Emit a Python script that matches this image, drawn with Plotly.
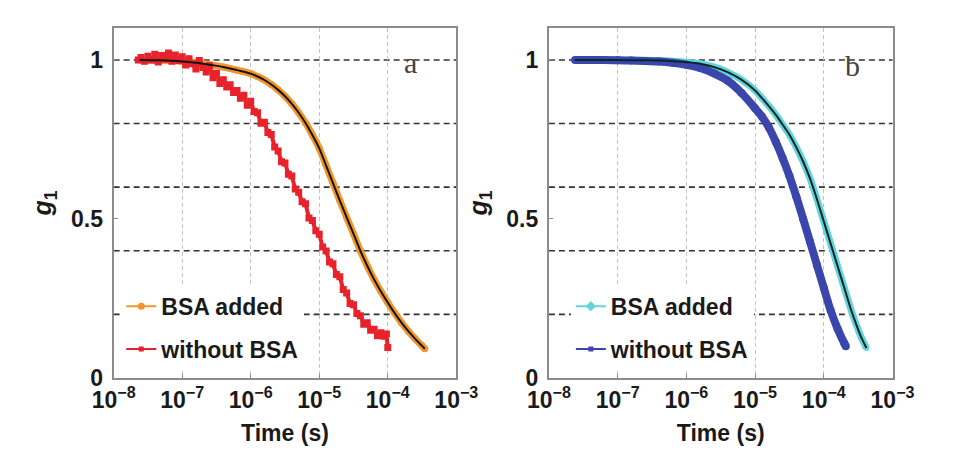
import plotly.graph_objects as go

# ---------------- data ----------------
# time values are stored as log10(t / s)
A_ADDED_LOGT = [-7.62, -7.4, -7.2, -7.0, -6.8, -6.6, -6.4, -6.2, -6.0, -5.9, -5.8, -5.7, -5.6, -5.5,
                -5.4, -5.3, -5.2, -5.1, -5.0, -4.9, -4.8, -4.7, -4.6, -4.5, -4.4, -4.3, -4.2, -4.1,
                -4.0, -3.9, -3.8, -3.7, -3.6, -3.5, -3.46]
A_ADDED_G = [1.000, 0.999, 0.998, 0.995, 0.991, 0.985, 0.978, 0.968, 0.957, 0.948, 0.937, 0.923, 0.906, 0.886,
             0.862, 0.834, 0.802, 0.764, 0.722, 0.668, 0.613, 0.558, 0.505, 0.453, 0.400, 0.353, 0.310, 0.272,
             0.237, 0.204, 0.174, 0.147, 0.123, 0.101, 0.092]

A_NOBSA_LOGT = [-7.64, -7.60, -7.55, -7.50, -7.45, -7.40, -7.35, -7.30, -7.25, -7.20, -7.15, -7.10, -7.05,
                -7.00, -6.95, -6.90, -6.85, -6.80, -6.75, -6.70, -6.65, -6.60, -6.55, -6.50, -6.45, -6.40,
                -6.35, -6.30, -6.25, -6.20, -6.15, -6.10, -6.05, -6.00, -5.95, -5.90, -5.85, -5.80, -5.75,
                -5.70, -5.65, -5.60, -5.55, -5.50, -5.45, -5.40, -5.35, -5.30, -5.25, -5.20, -5.15, -5.10,
                -5.05, -5.00, -4.95, -4.90, -4.85, -4.80, -4.75, -4.70, -4.65, -4.60, -4.55, -4.50, -4.45,
                -4.40, -4.35, -4.30, -4.25, -4.20, -4.15, -4.10, -4.05, -4.02, -4.00]
A_NOBSA_G = [1.000, 1.008, 0.996, 1.012, 1.000, 1.018, 0.994, 1.014, 1.002, 1.022, 0.996, 1.016, 0.998,
             1.010, 0.984, 1.004, 0.988, 0.972, 0.998, 0.976, 0.962, 0.982, 0.944, 0.958, 0.926, 0.938,
             0.915, 0.922, 0.898, 0.904, 0.880, 0.889, 0.858, 0.870, 0.838, 0.834, 0.801, 0.804, 0.772,
             0.766, 0.726, 0.714, 0.680, 0.676, 0.641, 0.635, 0.594, 0.584, 0.554, 0.548, 0.503, 0.495,
             0.463, 0.452, 0.412, 0.399, 0.365, 0.359, 0.325, 0.318, 0.278, 0.267, 0.234, 0.230, 0.203,
             0.196, 0.169, 0.174, 0.150, 0.153, 0.133, 0.142, 0.131, 0.138, 0.096]

B_ADDED_LOGT = [-7.62, -7.4, -7.2, -7.0, -6.8, -6.6, -6.4, -6.2, -6.0, -5.8, -5.6, -5.4, -5.2, -5.0,
                -4.9, -4.8, -4.7, -4.6, -4.5, -4.4, -4.3, -4.2, -4.1, -4.0, -3.9, -3.8,
                -3.7, -3.6, -3.5, -3.45, -3.38]
B_ADDED_G = [1.000, 1.000, 1.000, 1.000, 0.999, 0.999, 0.998, 0.996, 0.993, 0.988, 0.978, 0.962, 0.938, 0.904,
             0.880, 0.855, 0.828, 0.797, 0.765, 0.725, 0.680, 0.627, 0.562, 0.492, 0.422, 0.352,
             0.282, 0.212, 0.152, 0.125, 0.094]

B_NOBSA_LOGT = [-7.62, -7.4, -7.2, -7.0, -6.8, -6.6, -6.4, -6.2, -6.0, -5.8, -5.6, -5.4, -5.2,
                -5.0, -4.9, -4.8, -4.7, -4.6, -4.5, -4.4, -4.3, -4.2, -4.1, -4.0, -3.9,
                -3.8, -3.7, -3.68]
B_NOBSA_G = [1.000, 1.000, 1.000, 0.999, 0.998, 0.997, 0.995, 0.991, 0.985, 0.975, 0.958, 0.935, 0.897,
             0.848, 0.822, 0.788, 0.743, 0.692, 0.635, 0.570, 0.500, 0.428, 0.355, 0.283, 0.212,
             0.155, 0.108, 0.100]

SERIES_NAMES = ["BSA added", "without BSA"]
PANEL_LABELS = ["a", "b"]
X_TICKS = [1e-8, 1e-7, 1e-6, 1e-5, 1e-4, 1e-3]
X_TICKTEXT = ["10<sup>\u22128</sup>", "10<sup>\u22127</sup>", "10<sup>\u22126</sup>",
              "10<sup>\u22125</sup>", "10<sup>\u22124</sup>", "10<sup>\u22123</sup>"]
Y_TICKS = [0, 0.5, 1]
Y_TICKTEXT = ["0", "0.5", "1"]
Y_GRID = [0.2, 0.4, 0.6, 0.8, 1.0]

# ---------------- style ----------------
W, H = 968, 458
FONT = "Liberation Sans"
ORANGE = "#f2962c"
RED = "#e8222b"
CYAN = "#63d3dc"
NAVY = "#3a46ab"
FIT = "#151515"
FRAME = "#8c8c8c"
TXT = "#1a1a1a"

def tlist(logs):
    return [10 ** v for v in logs]

fig = go.Figure()

# ---- panel a ----
fig.add_trace(go.Scatter(x=tlist(A_ADDED_LOGT), y=A_ADDED_G, mode="lines+markers", line=dict(color=ORANGE, width=7, shape="spline"),
                         marker=dict(symbol="circle", size=7, color=ORANGE), showlegend=False, xaxis="x", yaxis="y"))
fig.add_trace(go.Scatter(x=tlist(A_NOBSA_LOGT), y=A_NOBSA_G, mode="lines+markers", line=dict(color=RED, width=4),
                         marker=dict(symbol="square", size=7, color=RED), showlegend=False, xaxis="x", yaxis="y"))
fig.add_trace(go.Scatter(x=tlist(A_ADDED_LOGT), y=A_ADDED_G, mode="lines", line=dict(color=FIT, width=2, shape="spline"),
                         showlegend=False, xaxis="x", yaxis="y"))
# legend entries
fig.add_trace(go.Scatter(x=[None], y=[None], name=SERIES_NAMES[0], mode="lines+markers", line=dict(color=ORANGE, width=2),
                         marker=dict(symbol="circle", size=7, color=ORANGE), legend="legend", legendgroup="a1", xaxis="x", yaxis="y"))
fig.add_trace(go.Scatter(x=[None], y=[None], name=SERIES_NAMES[1], mode="lines+markers", line=dict(color=RED, width=2),
                         marker=dict(symbol="square", size=5, color=RED), legend="legend", legendgroup="a2", xaxis="x", yaxis="y"))

# ---- panel b ----
fig.add_trace(go.Scatter(x=tlist(B_ADDED_LOGT), y=B_ADDED_G, mode="lines+markers", line=dict(color=CYAN, width=7, shape="spline"),
                         marker=dict(symbol="circle", size=6, color=CYAN), showlegend=False, xaxis="x2", yaxis="y2"))
fig.add_trace(go.Scatter(x=tlist(B_NOBSA_LOGT), y=B_NOBSA_G, mode="lines+markers", line=dict(color=NAVY, width=8, shape="spline"),
                         marker=dict(symbol="circle", size=8, color=NAVY), showlegend=False, xaxis="x2", yaxis="y2"))
fig.add_trace(go.Scatter(x=tlist(B_ADDED_LOGT), y=B_ADDED_G, mode="lines", line=dict(color="#0c2626", width=2, shape="spline"),
                         showlegend=False, xaxis="x2", yaxis="y2"))
fig.add_trace(go.Scatter(x=[None], y=[None], name=SERIES_NAMES[0], mode="lines+markers", line=dict(color=CYAN, width=2),
                         marker=dict(symbol="diamond", size=8, color=CYAN), legend="legend2", legendgroup="b1", xaxis="x2", yaxis="y2"))
fig.add_trace(go.Scatter(x=[None], y=[None], name=SERIES_NAMES[1], mode="lines+markers", line=dict(color=NAVY, width=2),
                         marker=dict(symbol="square", size=5, color=NAVY), legend="legend2", legendgroup="b2", xaxis="x2", yaxis="y2"))

ydom = [1 - 389 / H, 1 - 29 / H]
xdoms = [[96 / W, 455 / W], [552 / W, 912 / W]]

def xaxis_cfg(dom):
    return dict(type="log", range=[-8, -3], domain=dom, tickvals=X_TICKS, ticktext=X_TICKTEXT,
                showgrid=True, gridcolor="#c4c4c4", griddash="4px,3px", gridwidth=1,
                showline=True, linecolor=FRAME, linewidth=2, mirror=True,
                ticks="inside", ticklen=4, tickcolor=FRAME, zeroline=False,
                tickfont=dict(family=FONT, size=23, color=TXT, weight="bold"),
                title=dict(text="Time (s)", standoff=13, font=dict(family=FONT, size=23, color=TXT, weight="bold")))

def yaxis_cfg(anchor):
    return dict(range=[0, 1.1], domain=ydom, anchor=anchor, tickvals=Y_TICKS, ticktext=Y_TICKTEXT,
                showgrid=False, zeroline=False, showline=True, linecolor=FRAME, linewidth=2, mirror=True,
                ticks="inside", ticklen=4, tickcolor=FRAME, ticklabelstandoff=4,
                tickfont=dict(family=FONT, size=23, color=TXT, weight="bold"),
                title=dict(text="<i>g</i><sub>1</sub>", standoff=12, font=dict(family=FONT, size=25, color=TXT, weight="bold")))

shapes = []
for xr, yr in (("x", "y"), ("x2", "y2")):
    for gv in Y_GRID:
        shapes.append(dict(type="line", xref=xr + " domain", yref=yr, x0=0, x1=1, y0=gv, y1=gv,
                           line=dict(color="#333333", width=1.6, dash="6px,4px"), layer="below"))

legend_common = dict(xanchor="left", yanchor="top", bgcolor="white", borderwidth=0,
                     font=dict(family=FONT, size=23, color=TXT, weight="bold"),
                     traceorder="grouped", tracegroupgap=10, itemwidth=30)

fig.update_layout(
    width=W, height=H, margin=dict(l=0, r=0, t=0, b=0),
    paper_bgcolor="white", plot_bgcolor="white",
    xaxis=xaxis_cfg(xdoms[0]), yaxis=yaxis_cfg("x"),
    xaxis2=xaxis_cfg(xdoms[1]), yaxis2=yaxis_cfg("x2"),
    shapes=shapes,
    legend=dict(x=104 / W, y=1 - 293 / H, **legend_common),
    legend2=dict(x=575 / W, y=1 - 293 / H, **legend_common),
    annotations=[
        dict(text=PANEL_LABELS[0], xref="paper", yref="paper", x=407 / W, y=1 - 64 / H, showarrow=False,
             xanchor="center", yanchor="middle",
             font=dict(family="Liberation Serif", size=30, color="#444444")),
        dict(text=PANEL_LABELS[1], xref="paper", yref="paper", x=870 / W, y=1 - 67 / H, showarrow=False,
             xanchor="center", yanchor="middle",
             font=dict(family="Liberation Serif", size=30, color="#444444")),
    ],
    showlegend=True,
)

fig.write_html("out.html")
